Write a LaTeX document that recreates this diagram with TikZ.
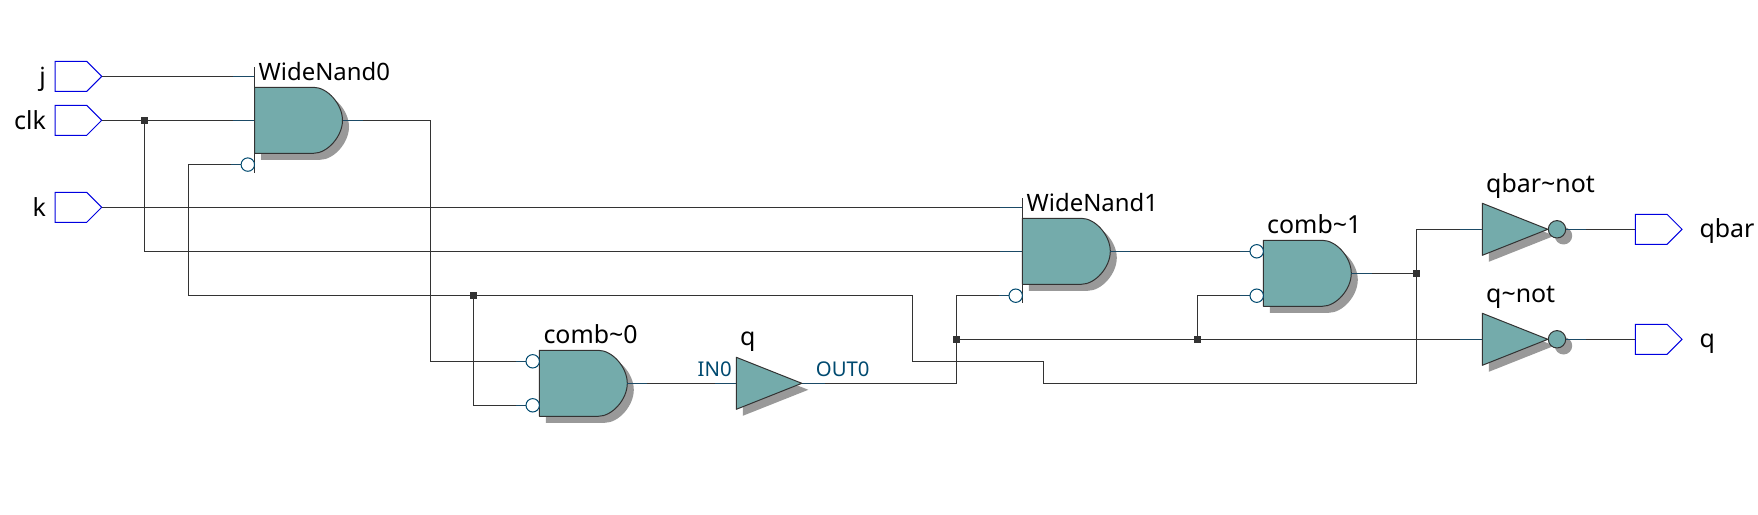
\documentclass[tikz,border=0pt]{standalone}
\usepackage{fontspec}
\setmainfont{Noto Sans}
\definecolor{gatefill}{HTML}{74ABAB}
\definecolor{shade}{HTML}{999999}
\definecolor{wirec}{HTML}{333333}
\definecolor{portc}{HTML}{004A70}
\definecolor{stubc}{HTML}{1B4A66}
\definecolor{pinc}{HTML}{0000E0}
\tikzset{
  wire/.style={draw=wirec,line width=1.1bp},
  stub/.style={draw=stubc,line width=1.1bp},
  body/.style={fill=gatefill,draw=wirec,line width=1bp,line join=round},
  shadowfill/.style={fill=shade,draw=none},
  bubble/.style={draw=portc,fill=white,line width=1bp},
  pinshape/.style={draw=pinc,fill=white,line width=1bp},
  lab/.style={font=\fontsize{24}{24}\selectfont,text=black,inner sep=0pt,anchor=base west},
  labw/.style={font=\fontsize{25}{25}\selectfont,text=black,inner sep=0pt,anchor=base west},
  sig/.style={font=\fontsize{25}{25}\selectfont,text=black,inner sep=0pt},
  portlab/.style={font=\fontsize{20.4}{20.4}\selectfont,text=portc,inner sep=0pt,anchor=base west},
  junc/.style={fill=wirec,draw=none,minimum size=7bp,inner sep=0pt,rectangle}
}
\newcommand\AndBody{(0,0) -- (59,0) .. controls (73,0) and (88,17) .. (88,33) .. controls (88,49) and (73,66) .. (59,66) -- (0,66) -- cycle}
\newcommand\GateShape[3]{%
  \begin{scope}[shift={(#2,#3)}]
    \fill[shadowfill,shift={(6.5,6.5)}] \AndBody;
    \path[body] \AndBody;
    \coordinate (#1out) at (88,33);
    \draw[stub] (88,33) -- (108,33);
  \end{scope}}
\newcommand\TriShape{%
  \fill[shadowfill,shift={(6.5,6.5)}] (0,-26) -- (65.5,0) -- (0,26) -- cycle;
  \path[body] (0,-26) -- (65.5,0) -- (0,26) -- cycle;}
\newcommand\Inverter[3]{%
  \begin{scope}[shift={(#2,#3)}]
    \TriShape
    \fill[shadowfill] (81.2,6.5) circle (8.7);
    \path[body] (74.7,0) circle (8.7);
    \coordinate (#1in) at (0,0);
    \coordinate (#1out) at (83.4,0);
    \draw[stub] (-22,0) -- (0,0);
  \end{scope}}
\newcommand\PinOut[3]{%
  \begin{scope}[shift={(#2,#3)}]
    \path[pinshape] (0,-15) -- (31.7,-15) -- (46.7,0) -- (31.7,15) -- (0,15) -- cycle;
    \coordinate (#1l) at (0,0);
    \coordinate (#1r) at (46.7,0);
  \end{scope}}
\begin{document}
\begin{tikzpicture}[x=1bp,y=-1bp]
\useasboundingbox (0,0) rectangle (1758,515);
\fill[white] (0,0) rectangle (1758,515);

\coordinate (pja) at (254.5,76.4);
\coordinate (pclka) at (254.5,120.3);
\coordinate (pna) at (241,164.6);
\coordinate (pka) at (1022.3,207.3);
\coordinate (pkb) at (1022.3,251.3);
\coordinate (pnb) at (1009,295.7);
\coordinate (cia) at (526,361.3);
\coordinate (cib) at (526,405.3);
\coordinate (coa) at (1250,251.3);
\coordinate (cob) at (1250,295.7);
\coordinate (nandzo) at (342.8,120.3);
\coordinate (nandoo) at (1110.3,251.3);
\coordinate (czo) at (627.7,383.3);
\coordinate (coo) at (1351.7,273.3);
\coordinate (bufin) at (736.3,383.3);
\coordinate (bufout) at (801.7,383.3);
\coordinate (w1) at (188.3,295.7);
\coordinate (w2) at (912.5,361.3);
\coordinate (w3) at (1043.3,383.3);
\coordinate (w4) at (1416.3,229.3);

\node[junc] (ja) at (144.3,120.3) {};
\node[junc] (jb) at (473.3,295.7) {};
\node[junc] (jc) at (956.5,339.3) {};
\node[junc] (jd) at (1197.3,339.3) {};
\node[junc] (je) at (1416.3,273.3) {};

\PinOut{pj}{55}{76.4}
\PinOut{pclk}{55}{120.3}
\PinOut{pk}{55}{207.3}
\PinOut{pqbar}{1635.3}{229.3}
\PinOut{pq}{1635.3}{339.3}

\draw[wire] (pjr) -- (pja);
\draw[wire] (pclkr) -- (pclka);
\draw[wire] (pkr) -- (pka);
\draw[wire] (ja) |- (pkb);
\draw[wire] (nandzo) -| (430.3,361.3) -- (cia);
\draw[wire] (pna) -| (w1) -- (jb) -- (912.5,295.7) |- (w2) -| (w3) |- (1416.3,383.3) -- (w4) -- (1482.3,229.3);
\draw[wire] (jb) |- (cib);
\draw[wire] (czo) -- (bufin);
\draw[wire] (bufout) -- (956.5,383.3) -- (jc);
\draw[wire] (jc) |- (pnb);
\draw[wire] (jc) -- (jd) -- (1482.3,339.3);
\draw[wire] (jd) |- (cob);
\draw[wire] (nandoo) -- (coa);
\draw[wire] (coo) -- (je);

\draw[stub] (232.5,76.4) -- (pja);
\draw[stub] (232.5,120.3) -- (pclka);
\draw[stub] (1000.3,207.3) -- (pka);
\draw[stub] (1000.3,251.3) -- (pkb);
\draw[stub] (231,164.6) -- (pna);
\draw[stub] (999,295.7) -- (pnb);
\draw[stub] (516,361.3) -- (cia);
\draw[stub] (516,405.3) -- (cib);
\draw[stub] (1240,251.3) -- (coa);
\draw[stub] (1240,295.7) -- (cob);
\draw[stub] (1351.7,273.3) -- (1372,273.3);
\draw[stub] (715,383.3) -- (bufin);
\draw[stub] (bufout) -- (825,383.3);

\GateShape{nz}{254.5}{87.3}
\GateShape{no}{1022.3}{218.3}
\GateShape{cz}{539.3}{350.3}
\GateShape{co}{1263.3}{240.3}
\draw[wirec,line width=1bp] (254.5,67.3) -- (254.5,172.7);
\draw[wirec,line width=1bp] (1022.3,198.3) -- (1022.3,303.3);
\path[bubble] (247.8,164.6) circle (6.7);
\path[bubble] (1015.7,295.7) circle (6.7);
\path[bubble] (532.7,361.3) circle (6.7);
\path[bubble] (532.7,405.3) circle (6.7);
\path[bubble] (1256.7,251.3) circle (6.7);
\path[bubble] (1256.7,295.7) circle (6.7);
\begin{scope}[shift={(736.3,383.3)}]
  \TriShape
\end{scope}
\Inverter{qbinv}{1482.3}{229.3}
\Inverter{qinv}{1482.3}{339.3}
\draw[wire] (qbinvout) -- (pqbarl);
\draw[wire] (qinvout) -- (pql);
\draw[stub] (qbinvout) -- ++(20,0);
\draw[stub] (qinvout) -- ++(20,0);

\node[sig,anchor=base east] (tj) at (46,86) {j};
\node[sig,anchor=base east] (tclk) at (46,130) {clk};
\node[sig,anchor=base east] (tk) at (46,217) {k};
\node[lab] (t1) at (258.5,80.5) {WideNand0};
\node[lab] (t2) at (1026.5,211.5) {WideNand1};
\node[labw] (t3) at (543.3,343.3) {comb\char`\~0};
\node[labw] (t4) at (1267,233.5) {comb\char`\~1};
\node[labw] (t5) at (740,345.5) {q};
\node[labw] (t6) at (1486,193) {qbar\char`\~not};
\node[labw] (t7) at (1486,303) {q\char`\~not};
\node[labw] (t8) at (1699.3,238) {qbar};
\node[labw] (t9) at (1699.3,348) {q};
\node[portlab] (t10) at (697.5,376.5) {IN0};
\node[portlab] (t11) at (815.7,376.5) {OUT0};
\end{tikzpicture}
\end{document}
